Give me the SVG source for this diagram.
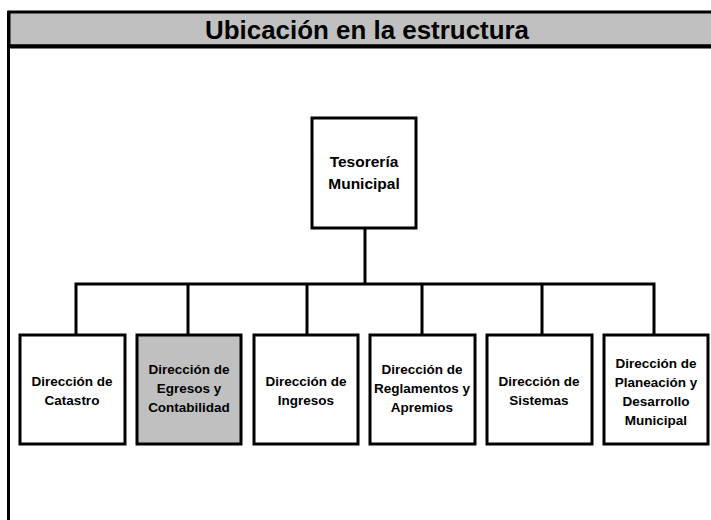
<svg xmlns="http://www.w3.org/2000/svg" width="711" height="520" viewBox="0 0 711 520">
<style>
.box{fill:#fff;stroke:#000;stroke-width:3}
.sel{fill:#c0c0c0}
.t{font-family:"Liberation Sans",Arial,sans-serif;font-weight:bold;font-size:13.5px;text-anchor:middle;fill:#000}
.tt{font-size:15.5px}
.conn{fill:none;stroke:#000;stroke-width:3}
</style>
<rect width="711" height="520" fill="#fff"/>
<g id="frame">
<rect x="9" y="12" width="720" height="34" fill="#c0c0c0" stroke="#000" stroke-width="3"/>
<line x1="8" y1="46.5" x2="711" y2="46.5" stroke="#000" stroke-width="4"/>
<line x1="8.5" y1="11" x2="8.5" y2="520" stroke="#000" stroke-width="3"/>
<text x="367" y="39" font-family="Liberation Sans,Arial,sans-serif" font-weight="bold" font-size="26" text-anchor="middle" textLength="324" lengthAdjust="spacingAndGlyphs">Ubicación en la estructura</text>
</g>
<g id="connectors">
<line class="conn" x1="365" y1="228" x2="365" y2="284"/>
<polyline class="conn" points="76,335 76,284 654,284 654,335"/>
<line class="conn" x1="188" y1="284" x2="188" y2="335"/>
<line class="conn" x1="307" y1="284" x2="307" y2="335"/>
<line class="conn" x1="422" y1="284" x2="422" y2="335"/>
<line class="conn" x1="542" y1="284" x2="542" y2="335"/>
</g>
<g id="tesoreria">
<rect class="box" x="312" y="118" width="104" height="110"/>
<text class="t tt" x="364" y="167">Tesorería</text>
<text class="t tt" x="364" y="189">Municipal</text>
</g>
<g id="catastro">
<rect class="box" x="20" y="335" width="105" height="109"/>
<text class="t" x="72" y="386">Dirección de</text>
<text class="t" x="72" y="405">Catastro</text>
</g>
<g id="egresos">
<rect class="box sel" x="137" y="335" width="104" height="109"/>
<text class="t" x="189" y="374">Dirección de</text>
<text class="t" x="189" y="393">Egresos y</text>
<text class="t" x="189" y="412">Contabilidad</text>
</g>
<g id="ingresos">
<rect class="box" x="254" y="335" width="104" height="109"/>
<text class="t" x="306" y="386">Dirección de</text>
<text class="t" x="306" y="405">Ingresos</text>
</g>
<g id="reglamentos">
<rect class="box" x="370" y="335" width="105" height="109"/>
<text class="t" x="422" y="374">Dirección de</text>
<text class="t" x="422" y="393">Reglamentos y</text>
<text class="t" x="422" y="412">Apremios</text>
</g>
<g id="sistemas">
<rect class="box" x="487" y="335" width="105" height="109"/>
<text class="t" x="539" y="386">Dirección de</text>
<text class="t" x="539" y="405">Sistemas</text>
</g>
<g id="planeacion">
<rect class="box" x="604" y="335" width="104" height="109"/>
<text class="t" x="656" y="368">Dirección de</text>
<text class="t" x="656" y="387">Planeación y</text>
<text class="t" x="656" y="406">Desarrollo</text>
<text class="t" x="656" y="425">Municipal</text>
</g>
</svg>
